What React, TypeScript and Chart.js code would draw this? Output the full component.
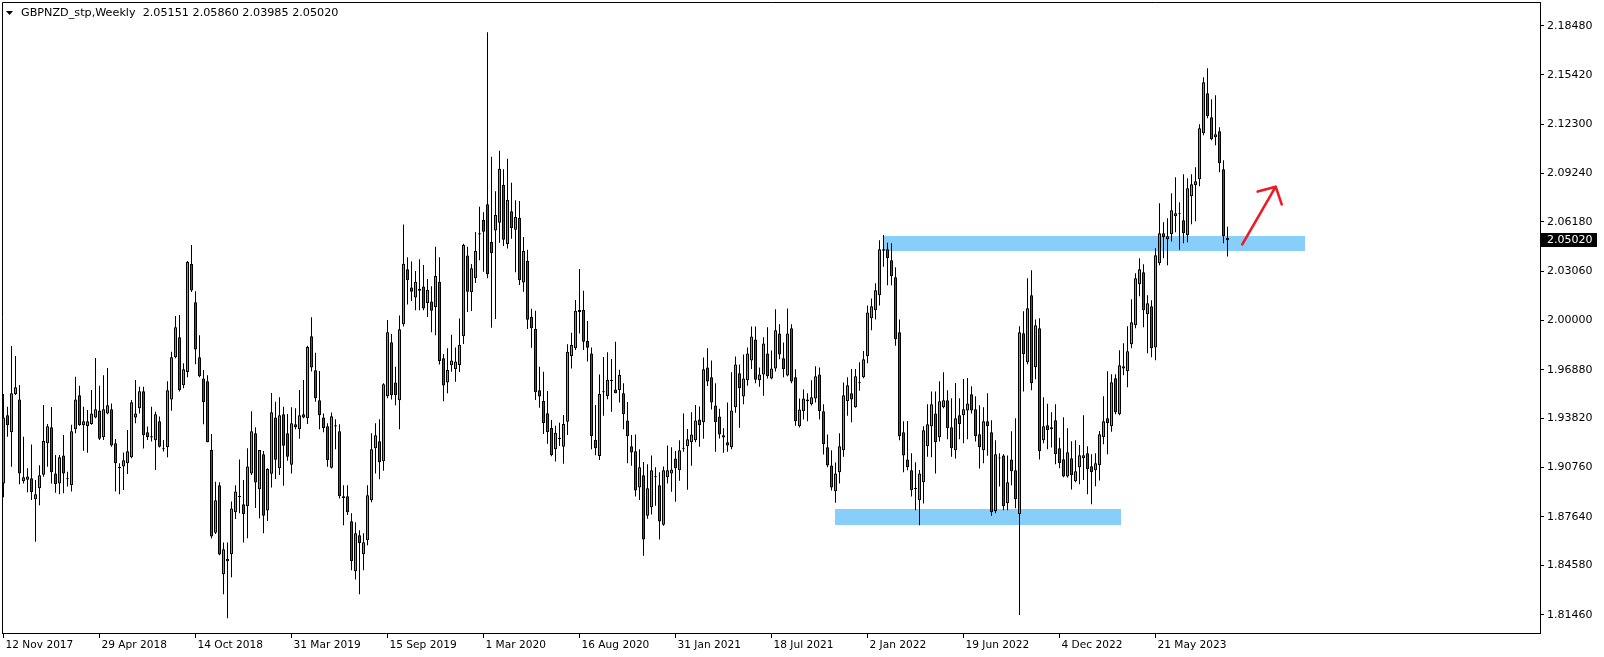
import React, { useEffect, useRef } from "react";
import { Chart, registerables } from "chart.js";

Chart.register(...registerables);

// ---- data (weekly bars, first bar = week of 12 Nov 2017) ----
const SYMBOL = "GBPNZD_stp,Weekly";

const opens = [
  1.8973, 1.9401, 1.9294, 1.9533, 1.9501, 1.8986, 1.8996, 1.9005, 1.8873, 1.8943,
  1.9028, 1.9225, 1.9326, 1.9036, 1.8973, 1.9149, 1.9003, 1.8961, 1.9313, 1.9527,
  1.9338, 1.9334, 1.9347, 1.9388, 1.9432, 1.9263, 1.9413, 1.9439, 1.9225, 1.9076,
  1.908, 1.9099, 1.9137, 1.9388, 1.9445, 1.9552, 1.9294, 1.9269, 1.9244, 1.9364,
  1.9194, 1.92, 1.9501, 1.9766, 1.9891, 1.959, 1.9674, 2.0352, 2.0111, 1.9766,
  1.9632, 1.9615, 1.9183, 1.8663, 1.8961, 1.8402, 1.8484, 1.8528, 1.8792, 1.8892,
  1.8842, 1.8829, 1.9036, 1.9288, 1.8936, 1.9156, 1.8802, 1.9034, 1.9388, 1.9068,
  1.9407, 1.9288, 1.9091, 1.9345, 1.9313, 1.9407, 1.9382, 1.9898, 1.9684, 1.9495,
  1.9388, 1.9332, 1.9072, 1.9338, 1.9301, 1.888, 1.8892, 1.8735, 1.8421, 1.8647,
  1.8528, 1.8616, 1.8867, 1.9194, 1.9238, 1.9112, 1.9521, 1.986, 1.9608, 1.9495,
  1.9973, 2.0319, 2.0204, 2.0142, 2.0197, 2.021, 2.0107, 2.0117, 2.0082, 2.0241,
  1.9759, 1.9608, 1.9715, 1.9692, 1.9717, 1.9898, 2.0405, 2.0174, 2.0262, 2.0538,
  2.0629, 2.0727, 2.049, 2.0563, 2.0612, 2.0849, 2.0478, 2.0683, 2.0568, 2.0643,
  2.0235, 2.0373, 2.0021, 1.9944, 1.9558, 1.9491, 1.9414, 1.9321, 1.9188, 1.926,
  1.9204, 1.9361, 1.9774, 1.9822, 2.005, 2.0063, 1.9868, 1.979, 1.9248, 1.9146,
  1.9546, 1.9522, 1.9621, 1.9564, 1.956, 1.9539, 1.9369, 1.9206, 1.9175, 1.8948,
  1.9024, 1.877, 1.8823, 1.9017, 1.8961, 1.8713, 1.9011, 1.9036, 1.913, 1.9055,
  1.9195, 1.9206, 1.9231, 1.9244, 1.9375, 1.9357, 1.9702, 1.964, 1.9463, 1.9394,
  1.9262, 1.9231, 1.92, 1.9451, 1.9665, 1.952, 1.9621, 1.9746, 1.9878, 1.9621,
  1.9658, 1.979, 1.9633, 1.9696, 1.9916, 1.9759, 1.9652, 1.9948, 1.964, 1.9332,
  1.9426, 1.9501, 1.947, 1.9507, 1.9658, 1.9426, 1.92, 1.9086, 1.8923, 1.9043,
  1.9181, 1.9489, 1.9539, 1.9451, 1.9602, 1.964, 1.9772, 2.0011, 2.0061, 2.0155,
  2.0436, 2.0444, 2.0375, 2.0268, 1.9923, 1.9294, 1.9124, 1.9055, 1.8945, 1.8867,
  1.898, 1.9206, 1.9332, 1.9413, 1.9263, 1.9451, 1.9495, 1.9326, 1.9181, 1.9401,
  1.9401, 1.9432, 1.9533, 1.9439, 1.9282, 1.9181, 1.9364, 1.9294, 1.8798, 1.9133,
  1.9149, 1.8848, 1.9124, 1.9055, 1.8779, 1.9917, 1.9734, 2.0155, 1.9703, 1.9948,
  1.9244, 1.9338, 1.9313, 1.937, 1.9194, 1.9125, 1.9016, 1.9131, 1.8986, 1.9074,
  1.9131, 1.9162, 1.9081, 1.9056, 1.9087, 1.9263, 1.9382, 1.9332, 1.9634, 1.9407,
  1.9696, 1.9678, 1.9847, 1.9967, 2.0224, 2.03, 2.0036, 2.0086, 1.9828, 2.0357,
  2.0545, 2.0507, 2.0539, 2.0652, 2.0671, 2.0627, 2.0532, 2.0778, 2.0847, 2.0885,
  2.1174, 2.1425, 2.1274, 2.1149, 2.1186, 2.0947, 2.05151,
];

const highs = [
  1.9535, 1.9455, 1.9837, 1.9774, 1.9592, 1.9267, 1.9068, 1.9217, 1.8995, 1.9087,
  1.9466, 1.9347, 1.9453, 1.9152, 1.9152, 1.9278, 1.9047, 1.9341, 1.9644, 1.9587,
  1.9455, 1.9434, 1.956, 1.9762, 1.9587, 1.9653, 1.9699, 1.9476, 1.9252, 1.9099,
  1.9168, 1.9309, 1.9497, 1.9623, 1.9581, 1.9581, 1.933, 1.9455, 1.9424, 1.9393,
  1.9246, 1.9615, 1.9801, 2.0025, 2.0031, 1.9728, 2.0371, 2.0472, 2.0181, 1.9904,
  1.9686, 1.9653, 1.9284, 1.8984, 1.898, 1.8601, 1.8601, 1.8859, 1.8961, 1.9124,
  1.8995, 1.9194, 1.9426, 1.9326, 1.9183, 1.9177, 1.9068, 1.9541, 1.9487, 1.9514,
  1.9455, 1.9409, 1.9451, 1.9445, 1.956, 1.9623, 1.9839, 2.0017, 1.9795, 1.968,
  1.9413, 1.9351, 1.9418, 1.9376, 1.9345, 1.8961, 1.8961, 1.8785, 1.8729, 1.8678,
  1.8659, 1.8961, 1.9288, 1.9351, 1.9376, 1.9602, 2.0, 1.9912, 1.9707, 2.0029,
  2.0601, 2.0394, 2.0367, 2.0308, 2.0382, 2.0346, 2.0258, 2.0212, 2.0461, 2.0394,
  1.9786, 1.9822, 1.9908, 1.9828, 2.001, 2.048, 2.0461, 2.0352, 2.0553, 2.0712,
  2.0677, 2.1808, 2.1026, 2.0809, 2.1064, 2.0947, 2.1014, 2.0863, 2.0752, 2.0748,
  2.0522, 2.0442, 2.0071, 2.0059, 1.9707, 1.9675, 1.9554, 1.9372, 1.9336, 1.9355,
  1.9403, 1.9847, 1.992, 2.0126, 2.0321, 2.0184, 1.9994, 1.9828, 1.9466, 1.9658,
  1.9767, 1.9797, 1.9755, 1.9864, 1.9688, 1.9602, 1.9484, 1.9277, 1.9281, 1.9187,
  1.9107, 1.9093, 1.9149, 1.9074, 1.9043, 1.908, 1.9212, 1.92, 1.9177, 1.9244,
  1.9413, 1.9315, 1.942, 1.9466, 1.9457, 1.9765, 1.9822, 1.9746, 1.9602, 1.9443,
  1.9319, 1.9482, 1.9671, 1.9771, 1.9721, 1.9784, 1.9828, 1.996, 1.996, 1.9702,
  1.9891, 1.9954, 1.9809, 2.0067, 1.9973, 1.9859, 2.0073, 1.9973, 1.969, 1.9507,
  1.9564, 1.9539, 1.9621, 1.9709, 1.9702, 1.947, 1.9281, 1.9181, 1.9105, 1.9288,
  1.9608, 1.964, 1.9692, 1.9692, 1.9734, 1.9805, 2.0092, 2.0136, 2.0231, 2.0501,
  2.0534, 2.0486, 2.0482, 2.0331, 2.0004, 1.9364, 1.9366, 1.9162, 1.9106, 1.9057,
  1.9332, 1.947, 1.955, 1.955, 1.9615, 1.9671, 1.9558, 1.9508, 1.9604, 1.9508,
  1.9629, 1.9636, 1.9583, 1.9521, 1.9464, 1.9451, 1.9539, 1.937, 1.9244, 1.9162,
  1.9156, 1.9149, 1.9301, 1.9382, 1.9961, 2.0055, 2.0262, 2.0312, 2.0004, 2.0011,
  1.9514, 1.9474, 1.942, 1.947, 1.926, 1.9389, 1.9319, 1.9238, 1.9244, 1.9215,
  1.9401, 1.9206, 1.9156, 1.9162, 1.9303, 1.9521, 1.9678, 1.9659, 1.9659, 1.981,
  1.9854, 1.9961, 2.013, 2.0294, 2.0388, 2.035, 2.0155, 2.0124, 2.0451, 2.0734,
  2.0614, 2.0639, 2.0797, 2.0897, 2.074, 2.0916, 2.0891, 2.0916, 2.096, 2.123,
  2.1526, 2.1582, 2.1387, 2.1412, 2.1211, 2.1004, 2.0586,
];

const lows = [
  1.8886, 1.9267, 1.9078, 1.9529, 1.8967, 1.8973, 1.8917, 1.8869, 1.8607, 1.8836,
  1.9015, 1.9078, 1.8973, 1.8915, 1.8905, 1.8911, 1.8953, 1.8922, 1.9288, 1.9336,
  1.9179, 1.9166, 1.9341, 1.9382, 1.9246, 1.9246, 1.9407, 1.9204, 1.8922, 1.8905,
  1.8932, 1.9032, 1.9131, 1.9351, 1.9413, 1.9192, 1.9246, 1.9236, 1.9057, 1.9198,
  1.9173, 1.9137, 1.943, 1.976, 1.955, 1.9571, 1.964, 2.0176, 1.9722, 1.964,
  1.9345, 1.9231, 1.8626, 1.8655, 1.8521, 1.8276, 1.8125, 1.8383, 1.8749, 1.8785,
  1.8601, 1.8628, 1.9026, 1.8819, 1.8754, 1.8659, 1.8737, 1.8947, 1.9001, 1.9026,
  1.8959, 1.9116, 1.9036, 1.9313, 1.9254, 1.9382, 1.9347, 1.9676, 1.9487, 1.9313,
  1.9294, 1.9078, 1.9066, 1.9187, 1.8878, 1.871, 1.8775, 1.8427, 1.8369, 1.8276,
  1.8427, 1.8584, 1.8855, 1.9036, 1.8999, 1.9053, 1.9508, 1.9501, 1.9464, 1.9313,
  1.9959, 2.0098, 2.0119, 2.0061, 2.0061, 2.0061, 2.0019, 1.9923, 1.9904, 1.9721,
  1.9489, 1.954, 1.9675, 1.9612, 1.9673, 1.9849, 2.005, 2.0057, 2.0233, 2.0375,
  2.0304, 2.0262, 1.9952, 2.0006, 2.0486, 2.0465, 2.045, 2.0511, 2.03, 2.022,
  2.0178, 1.9944, 1.9826, 1.9498, 1.9449, 1.9284, 1.9223, 1.9144, 1.911, 1.9208,
  1.9097, 1.9277, 1.9696, 1.9811, 1.9916, 1.9811, 1.974, 1.9188, 1.915, 1.912,
  1.9399, 1.9502, 1.9424, 1.9539, 1.9481, 1.9313, 1.9099, 1.9084, 1.889, 1.8869,
  1.8519, 1.8751, 1.8778, 1.8833, 1.8621, 1.8707, 1.8973, 1.8921, 1.8858, 1.899,
  1.9172, 1.8933, 1.9084, 1.9231, 1.9204, 1.9254, 1.9585, 1.9438, 1.9172, 1.9256,
  1.9166, 1.9172, 1.9187, 1.9417, 1.9323, 1.947, 1.9587, 1.9692, 1.9602, 1.9581,
  1.9524, 1.9633, 1.9627, 1.9677, 1.9753, 1.964, 1.9646, 1.9602, 1.9336, 1.9325,
  1.9375, 1.9363, 1.9463, 1.9482, 1.9375, 1.9154, 1.9074, 1.8929, 1.8852, 1.8973,
  1.9141, 1.9399, 1.9357, 1.9449, 1.9556, 1.9634, 1.9728, 1.9935, 2.0004, 2.0092,
  2.0335, 2.0218, 2.0218, 1.9839, 1.9244, 1.9043, 1.9055, 1.889, 1.8804, 1.871,
  1.8846, 1.9141, 1.9137, 1.9036, 1.9236, 1.9445, 1.925, 1.9141, 1.9129, 1.925,
  1.9225, 1.925, 1.9413, 1.9236, 1.9066, 1.9099, 1.9147, 1.877, 1.8785, 1.8953,
  1.8804, 1.8804, 1.8961, 1.8817, 1.8146, 1.955, 1.9722, 1.9558, 1.9627, 1.9124,
  1.9225, 1.9187, 1.9198, 1.9093, 1.9068, 1.9012, 1.901, 1.8934, 1.898, 1.8967,
  1.8995, 1.8905, 1.8842, 1.8955, 1.8991, 1.9219, 1.9156, 1.9298, 1.9407, 1.9401,
  1.9653, 1.9577, 1.9822, 1.9948, 2.0149, 1.9955, 1.9791, 1.9766, 1.9747, 2.0344,
  2.0388, 2.0344, 2.0493, 2.0551, 2.0442, 2.0482, 2.0489, 2.0602, 2.0621, 2.0841,
  2.1161, 2.1268, 2.113, 2.1098, 2.0929, 2.0482, 2.03985,
];

const closes = [
  1.9388, 1.9338, 1.9539, 1.9577, 1.9036, 1.9011, 1.9017, 1.8917, 1.8905, 1.9024,
  1.924, 1.9332, 1.9043, 1.8967, 1.9137, 1.9036, 1.8999, 1.9301, 1.9501, 1.9338,
  1.9364, 1.9364, 1.9413, 1.9439, 1.9254, 1.9439, 1.9464, 1.9212, 1.9099, 1.9068,
  1.9118, 1.9175, 1.9483, 1.9413, 1.9552, 1.9276, 1.9263, 1.9261, 1.9407, 1.9204,
  1.9187, 1.9558, 1.9766, 1.9954, 1.956, 1.969, 2.0365, 2.0185, 1.9814, 1.9646,
  1.9483, 1.9231, 1.8639, 1.8867, 1.8526, 1.8559, 1.85, 1.8815, 1.8922, 1.8888,
  1.8781, 1.908, 1.9301, 1.8978, 1.9183, 1.877, 1.9064, 1.942, 1.9122, 1.9401,
  1.921, 1.9141, 1.9351, 1.9326, 1.9401, 1.9388, 1.9831, 1.9701, 1.9508, 1.9401,
  1.932, 1.9118, 1.9395, 1.933, 1.8892, 1.8892, 1.8792, 1.8484, 1.8659, 1.8599,
  1.8603, 1.8899, 1.9187, 1.9276, 1.9106, 1.9596, 1.9923, 1.9527, 1.9527, 1.9942,
  2.0354, 2.025, 2.0178, 2.0241, 2.0184, 2.0073, 2.0191, 2.0059, 2.0277, 1.9742,
  1.9589, 1.9686, 1.9746, 1.974, 1.9845, 2.0471, 2.0178, 2.0325, 2.0434, 2.0545,
  2.0555, 2.0287, 2.0421, 2.066, 2.0951, 2.0505, 2.0756, 2.0578, 2.0647, 2.025,
  2.0434, 2.0002, 1.9948, 1.9546, 1.952, 1.9353, 1.9294, 1.915, 1.9292, 1.9252,
  1.9346, 1.9801, 1.9843, 2.0059, 2.0063, 1.9864, 1.9826, 1.9271, 1.9194, 1.9535,
  1.9552, 1.9625, 1.9616, 1.9539, 1.9654, 1.9407, 1.9269, 1.9168, 1.8929, 1.9074,
  1.8621, 1.8942, 1.9055, 1.9011, 1.8734, 1.9055, 1.9055, 1.9061, 1.9068, 1.9181,
  1.9191, 1.925, 1.9281, 1.9369, 1.9338, 1.969, 1.9614, 1.9482, 1.9357, 1.9281,
  1.9275, 1.9212, 1.9432, 1.9721, 1.9571, 1.9633, 1.979, 1.9897, 1.9625, 1.9658,
  1.9853, 1.9646, 1.9696, 1.9935, 1.9784, 1.969, 1.9916, 1.9614, 1.9363, 1.9438,
  1.9507, 1.9489, 1.9514, 1.9646, 1.9426, 1.9219, 1.9086, 1.8948, 1.9036, 1.9206,
  1.9527, 1.959, 1.9501, 1.9646, 1.9608, 1.9753, 2.0048, 2.0086, 2.0187, 2.0444,
  2.0444, 2.0388, 2.0275, 1.9879, 1.9269, 1.9149, 1.9074, 1.893, 1.8936, 1.9036,
  1.9307, 1.9345, 1.947, 1.9231, 1.9489, 1.9495, 1.932, 1.9194, 1.9382, 1.9345,
  1.9439, 1.9476, 1.9432, 1.9269, 1.92, 1.9364, 1.9332, 1.8792, 1.9156, 1.9129,
  1.8829, 1.898, 1.9049, 1.8873, 1.9923, 1.9785, 2.0074, 1.9602, 1.9967, 1.9175,
  1.9332, 1.9307, 1.9326, 1.9156, 1.9099, 1.9016, 1.9169, 1.9024, 1.9049, 1.915,
  1.915, 1.9062, 1.9043, 1.91, 1.9282, 1.9364, 1.9351, 1.9609, 1.942, 1.9715,
  1.9709, 1.9803, 1.9986, 2.0262, 2.0319, 2.0061, 2.0105, 1.9822, 2.0407, 2.0545,
  2.052, 2.0526, 2.069, 2.0671, 2.0665, 2.0545, 2.0828, 2.0853, 2.0872, 2.1205,
  2.1494, 2.128, 2.1136, 2.1167, 2.0985, 2.0526, 2.0502,
];

// time axis labels (bar index -> date text)
const xTickIndex = [0, 24, 48, 72, 96, 120, 144, 168, 192, 216, 240, 264, 288];
const xTickLabels = [
  "12 Nov 2017", "29 Apr 2018", "14 Oct 2018", "31 Mar 2019", "15 Sep 2019",
  "1 Mar 2020", "16 Aug 2020", "31 Jan 2021", "18 Jul 2021", "2 Jan 2022",
  "19 Jun 2022", "4 Dec 2022", "21 May 2023",
];

// price axis labels
const yTicks = [
  2.1848, 2.1542, 2.123, 2.0924, 2.0618, 2.0306, 2.0, 1.9688, 1.9382, 1.9076,
  1.8764, 1.8458, 1.8146,
];

// zones (bar index range, price range)
const zoneStart = [219.9, 207.9];
const zoneEnd = [325.4, 279.4];
const zoneTop = [2.0528, 1.8812];
const zoneBottom = [2.0435, 1.8713];

// hand-drawn arrow (bar index, price)
const arrowTail = [309.7, 2.0476];
const arrowTip = [318.05, 2.0838];
const arrowBarbA = [313.55, 2.0807];
const arrowBarbB = [319.55, 2.0727];

const X_MIN = -0.375;
const X_MAX = 384.125;
const Y_MIN = 1.80328;
const Y_MAX = 2.19988;

const GREEN = "#32cd32";
const RED = "#dc1414";
const ZONE = "#87cefa";
const FONT = '"DejaVu Sans", sans-serif';

export default function App() {
  const ref = useRef<HTMLCanvasElement | null>(null);

  useEffect(() => {
    const canvas = ref.current;
    if (!canvas) return;

    const bodyData = opens.map((o, i) => ({ x: i, y: [o, closes[i]] }));
    const wickData = highs.map((h, i) => ({ x: i, y: [lows[i], h] }));
    const bodyColors = opens.map((o, i) => (closes[i] >= o ? GREEN : RED));

    const zonesPlugin = {
      id: "zones",
      beforeDatasetsDraw(chart: any) {
        const { ctx, scales } = chart;
        ctx.save();
        ctx.fillStyle = ZONE;
        for (let k = 0; k < zoneStart.length; k++) {
          const x1 = scales.x.getPixelForValue(zoneStart[k]);
          const x2 = scales.x.getPixelForValue(zoneEnd[k]);
          const y1 = scales.y.getPixelForValue(zoneTop[k]);
          const y2 = scales.y.getPixelForValue(zoneBottom[k]);
          ctx.fillRect(Math.round(x1), Math.round(y1), Math.round(x2 - x1), Math.round(y2 - y1));
        }
        ctx.restore();
      },
    };

    const overlayPlugin = {
      id: "overlay",
      afterDraw(chart: any) {
        const { ctx, scales, chartArea } = chart;
        ctx.save();
        // frame (top + left)
        ctx.strokeStyle = "#000";
        ctx.lineWidth = 1;
        ctx.beginPath();
        ctx.moveTo(chartArea.left + 0.5, chartArea.bottom);
        ctx.lineTo(chartArea.left + 0.5, chartArea.top + 0.5);
        ctx.lineTo(chartArea.right, chartArea.top + 0.5);
        ctx.stroke();

        // arrow
        const px = (p: number[]) => [scales.x.getPixelForValue(p[0]), scales.y.getPixelForValue(p[1])];
        const t0 = px(arrowTail), t1 = px(arrowTip), b1 = px(arrowBarbA), b2 = px(arrowBarbB);
        ctx.strokeStyle = "#ec1c24";
        ctx.lineWidth = 2.6;
        ctx.lineCap = "round";
        ctx.lineJoin = "round";
        ctx.beginPath();
        ctx.moveTo(t0[0], t0[1]);
        ctx.lineTo(t1[0], t1[1]);
        ctx.moveTo(b1[0], b1[1]);
        ctx.lineTo(t1[0], t1[1]);
        ctx.lineTo(b2[0], b2[1]);
        ctx.stroke();

        // header
        ctx.fillStyle = "#000";
        ctx.beginPath();
        ctx.moveTo(6, 11);
        ctx.lineTo(13, 11);
        ctx.lineTo(9.5, 15);
        ctx.closePath();
        ctx.fill();
        const n = opens.length - 1;
        const hdr = `${SYMBOL}  ${opens[n].toFixed(5)} ${highs[n].toFixed(5)} ${lows[n].toFixed(5)} ${closes[n].toFixed(5)}`;
        ctx.font = `11.2px ${FONT}`;
        ctx.textBaseline = "middle";
        ctx.textAlign = "left";
        ctx.fillText(hdr, 21, 13);

        // last price tag
        const last = closes[n];
        const yp = Math.round(scales.y.getPixelForValue(last));
        ctx.fillStyle = "#000";
        ctx.fillRect(chartArea.right + 1, yp - 7, 56, 14);
        ctx.fillStyle = "#fff";
        ctx.font = `11px ${FONT}`;
        ctx.fillText(last.toFixed(5), chartArea.right + 7, yp + 0.5);
        ctx.restore();
      },
    };

    const chart = new Chart(canvas, {
      type: "bar",
      data: {
        datasets: [
          {
            label: "body",
            data: bodyData as any,
            backgroundColor: bodyColors,
            borderColor: "#000",
            borderWidth: 1,
            borderSkipped: false,
            barThickness: 3,
            minBarLength: 1,
            grouped: false,
            inflateAmount: 0,
            order: 0,
          } as any,
          {
            label: "wick",
            data: wickData as any,
            backgroundColor: "#000",
            borderWidth: 0,
            barThickness: 1,
            grouped: false,
            inflateAmount: 0,
            order: 1,
          } as any,
        ],
      },
      options: {
        animation: false,
        responsive: false,
        devicePixelRatio: 1,
        layout: { padding: { left: 2, top: 2, right: 0, bottom: 0 } },
        plugins: { legend: { display: false }, tooltip: { enabled: false } },
        scales: {
          x: {
            type: "linear",
            position: "bottom",
            min: X_MIN,
            max: X_MAX,
            offset: false,
            bounds: "data",
            grid: {
              display: true,
              drawOnChartArea: false,
              drawTicks: true,
              tickLength: 5,
              color: "#000",
              offset: false,
            },
            border: { display: true, color: "#000", width: 1 },
            ticks: {
              autoSkip: false,
              maxRotation: 0,
              minRotation: 0,
              align: "start",
              labelOffset: 2,
              padding: 1,
              color: "#000",
              font: { family: FONT, size: 10.6 },
              callback: (_v: any, idx: number) => xTickLabels[idx] ?? "",
            },
            afterBuildTicks: (s: any) => {
              s.ticks = xTickIndex.map((v) => ({ value: v }));
            },
            afterFit: (s: any) => {
              s.height = 24;
              s.paddingLeft = 0;
              s.paddingRight = 0;
              s.paddingTop = 0;
              s.paddingBottom = 0;
            },
          },
          y: {
            type: "linear",
            position: "right",
            min: Y_MIN,
            max: Y_MAX,
            bounds: "data",
            grid: {
              display: true,
              drawOnChartArea: false,
              drawTicks: true,
              tickLength: 4,
              color: "#000",
            },
            border: { display: true, color: "#000", width: 1 },
            ticks: {
              color: "#000",
              padding: 3,
              font: { family: FONT, size: 11 },
              callback: (v: any) => Number(v).toFixed(5),
            },
            afterBuildTicks: (s: any) => {
              s.ticks = yTicks.map((v) => ({ value: v }));
            },
            afterFit: (s: any) => {
              s.width = 64;
              s.paddingLeft = 0;
              s.paddingRight = 0;
              s.paddingTop = 0;
              s.paddingBottom = 0;
            },
          },
        },
      } as any,
      plugins: [zonesPlugin, overlayPlugin],
    });

    return () => chart.destroy();
  }, []);

  return (
    <div style={{ position: "fixed", left: 0, top: 0, width: 1604, height: 657, background: "#fff" }}>
      <canvas ref={ref} width={1604} height={657} style={{ display: "block", width: 1604, height: 657 }} />
    </div>
  );
}
